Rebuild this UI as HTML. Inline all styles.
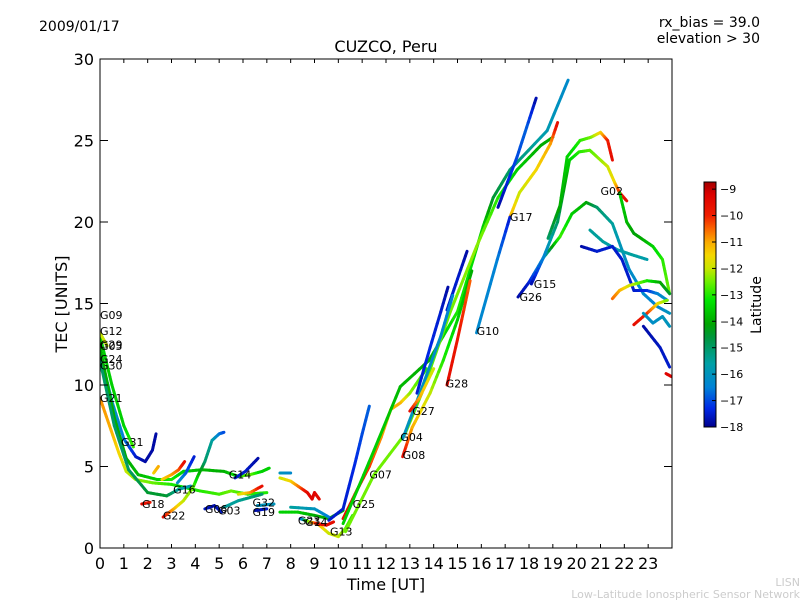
<!DOCTYPE html>
<html><head><meta charset="utf-8">
<style>
body{margin:0;background:#fff;}
svg{display:block;font-family:"DejaVu Sans","Liberation Sans",sans-serif;}
</style></head>
<body>
<svg id="chart" width="800" height="600" viewBox="0 0 800 600">
<rect width="800" height="600" fill="#fff"/>
<text x="39" y="31" font-size="14">2009/01/17</text>
<text x="760" y="27" font-size="14" text-anchor="end">rx_bias = 39.0</text>
<text x="760" y="43" font-size="14" text-anchor="end">elevation &gt; 30</text>
<text x="386" y="52" font-size="16" text-anchor="middle">CUZCO, Peru</text>
<text x="386" y="590" font-size="16" text-anchor="middle">Time [UT]</text>
<text x="67" y="304" font-size="16" text-anchor="middle" transform="rotate(-90 67 304)">TEC [UNITS]</text>
<text x="761" y="305" font-size="14" text-anchor="middle" transform="rotate(-90 761 305)">Latitude</text>
<text x="800" y="586" font-size="11" fill="#ccc" text-anchor="end">LISN</text>
<text x="800" y="598" font-size="11" fill="#ccc" text-anchor="end">Low-Latitude Ionospheric Sensor Network</text>
<g id="marks"></g>
<g id="axes"></g>
</svg>
<script>
const xTickLabels=[0,1,2,3,4,5,6,7,8,9,10,11,12,13,14,15,16,17,18,19,20,21,22,23];
const yTickLabels=[0,5,10,15,20,25,30];
const cbTickLabels=[-9,-10,-11,-12,-13,-14,-15,-16,-17,-18];
const trackIds=["G21","G31","G09","G05","G24","G18","G18b","G16","G16b","G22","G06","G03","G32b","G32","G19","G19b","G23","G23b","G29","G29b","G13","G14b","G25","G07","G30b","G12b","G17","G10","G17b","G04b","G04c","G04","G08","G27","G28","G26","G15","G02b","G02c","G02","G02d","G02e","G02f","G02g","G02h","G02i","G02j"];
const trackH=[
[0,0.4,0.8,1.1,1.5,2.2,3.0,3.6,4.2,5,5.5,6.2,7],
[0,0.5,1,1.5,1.9,2.2,2.35],
[0,0.5,1,1.4],
[0,0.6,1.1,1.6,2.4,3,3.5,4.3,5.2,5.8,6.3,6.8,7.1],
[0,0.6,1.2,2,2.8,3.3,3.8],
[1.75,2.1],
[2.25,2.45],
[2.6,3.0,3.3,3.55],
[3.25,3.6,3.95],
[2.65,3.1,3.5,3.9,4.1,4.4,4.7,5.0,5.2],
[4.4,4.8,5.1],
[5.2,5.8,6.3,6.8],
[5.67,6.1,6.63],
[5.8,6.3,6.8],
[6.5,7.0],
[6.6,7.3],
[7.55,8.0,8.4,8.7,8.9,9.0,9.2],
[7.55,8.0],
[7.55,8.3,9,9.6,10.2],
[8.0,9,9.6],
[9.2,9.6,10.0,10.3,10.6],
[8.4,8.8,9.1,9.5,9.8],
[9.6,10.2,10.7,11.0,11.3],
[10.2,10.8,11.3,11.8,12.2,12.6,13,13.7],
[10.2,11.5,12.6,13.8,15,16.07,16.5,17.2,18.76,19.64],
[10.3,11.5,12.8,13.5,14.7,15.8,16.7,17.5,18.5,19],
[17.2,17.6,18.3,18.9,19.2],
[15.8,16.67,17.2],
[16.7,17.5,17.9,18.3],
[13.3,13.85,14.3,14.6],
[14.56,15.0,15.4],
[12.7,13.5,14.3,14.8],
[12.7,13.1,13.85,14.4,15,15.6],
[13.0,13.4,14],
[14.56,15,15.53],
[17.54,18.0,18.6,19.3,19.8,20.4,20.85,21.5,21.9,22.2,22.8,23.4,23.9],
[18.1,18.6,19.2,19.7,20.1,20.55,21.0,21.3,21.6,21.8,22.1],
[18.8,19.3,19.6,20.14,20.6,21.0,21.3,21.5],
[21.8,22.1,22.4,22.8,23.2,23.6,23.9],
[20.56,21.1,21.7,22.3,22.95],
[20.2,20.85,21.5,21.9,22.4,22.95,23.4,23.8],
[21.5,21.8,22.2,22.95,23.5,23.9],
[22.4,22.95,23.4,23.8],
[22.8,23.2,23.6,23.9],
[22.8,23.5,23.9],
[23.75,24],
[0,0.3]
];
const trackTEC=[
[9.2,7.5,5.8,4.7,4.2,4.0,3.9,3.7,3.5,3.3,3.5,3.3,3.4],
[12,9,6.7,5.6,5.3,6,7],
[13,10,7.5,6.2],
[12.3,8,5.5,4.5,4.2,4.2,4.7,4.8,4.7,4.4,4.5,4.7,4.9],
[11.5,7.5,4.8,3.4,3.2,3.6,3.8],
[2.7,2.8],
[4.6,5.0],
[4.2,4.5,4.8,5.3],
[4.0,4.6,5.6],
[1.9,2.4,2.9,3.7,4.4,5.3,6.6,7.0,7.1],
[2.4,2.6,2.2],
[2.5,2.9,3.1,3.3],
[4.3,4.7,5.5],
[3.3,3.4,3.8],
[2.3,2.4],
[2.6,2.7],
[4.3,4.1,3.7,3.4,3.0,3.4,3.0],
[4.6,4.6],
[2.2,2.2,2.0,1.8,2.3],
[2.5,2.4,1.9],
[1.4,0.9,0.7,1.2,2.0],
[1.8,1.6,1.5,1.4,1.6],
[1.7,2.4,5.2,7.0,8.7],
[1.8,3.6,5,6.8,8.5,8.9,9.5,11],
[1.5,6,9.9,11.5,14.5,19.7,21.5,23.2,25.6,28.7],
[1.0,4.5,7,9.5,14.5,18.5,21.5,23.2,24.7,25.2],
[20.3,21.8,23.2,24.8,26.1],
[13.2,17.7,20.3],
[20.9,24,25.8,27.6],
[9.5,12.3,14.5,16],
[14.6,16.5,18.2],
[6.7,9.8,13,15.5],
[5.6,7.4,9.5,11.5,14,17],
[8.4,9.2,11],
[10,12.8,16.4],
[15.4,16.3,17.8,19.1,20.5,21.2,20.9,19.9,18.3,17.1,15.6,14.8,14.4],
[16.2,17.8,20,23.8,24.3,24.4,23.8,23.4,22.4,21.8,21.3],
[19,21,24,25,25.2,25.5,25,23.8],
[21.8,20,19.3,18.9,18.5,17.7,15.6],
[19.5,18.8,18.3,18.0,17.7],
[18.5,18.2,18.5,17.7,15.8,15.8,15.6,15.2],
[15.3,15.8,16.1,16.4,16.3,15.6],
[13.7,14.4,15,15.2],
[14.4,13.8,14.2,13.6],
[13.6,12.3,11.1],
[10.7,10.5],
[13.2,12.4]
];
const trackLat=[
[-10.8,-11,-11.5,-12,-12.3,-12.5,-13,-13.3,-13,-12.8,-12.5,-13,-13],
[-15.5,-16,-16.5,-17.5,-17.8,-17.8,-17.8],
[-13.5,-13.5,-13.5,-12.8],
[-14,-14,-14,-13.8,-13.5,-13,-13.5,-13.8,-14,-13.2,-12.5,-13.5,-13.5],
[-15,-15,-15,-14.5,-14.5,-15.5,-15.8],
[-9.5,-9.8],
[-11.5,-11],
[-11.5,-11,-10.5,-9.5],
[-16,-16.8,-17.5],
[-9.5,-11,-12,-12.5,-13.5,-15,-15.5,-16.5,-17],
[-17.5,-17.8,-17.5],
[-15.5,-15.5,-15.2,-15],
[-17.5,-17.5,-17.8],
[-12,-11,-9.5],
[-17.8,-17.5],
[-16,-16],
[-12,-11.5,-10.5,-9.5,-9.3,-9.3,-9.5],
[-16,-16.3],
[-13.5,-13.5,-14,-14,-14],
[-15.5,-16,-16.5],
[-11,-12,-12,-12.5,-13],
[-17.5,-12,-9.8,-9.5,-9.5],
[-17.5,-17.5,-17.3,-17,-16.8],
[-9.5,-9.7,-10.2,-10.8,-11.3,-11,-12.3,-13],
[-13.5,-13.5,-13.8,-14,-13,-13.5,-14.5,-15,-15.8,-16.3],
[-12.5,-12.5,-12.5,-12.8,-12.5,-12.3,-13,-13.5,-14,-14],
[-11,-12,-11.5,-11,-9.5],
[-16.3,-16.5,-17.5],
[-17.8,-17,-16.8,-17.8],
[-17.5,-17.3,-17.5,-17.8],
[-17.5,-17.5,-17.8],
[-16,-16,-16.3,-16.5],
[-9.5,-11,-12,-13,-13.5,-14],
[-9.5,-11,-12],
[-9.5,-9.8,-10.5],
[-17.8,-17.5,-16,-12.8,-13.5,-14,-15,-15.5,-16,-16.2,-16.3,-16.5,-16],
[-17.8,-16.5,-15,-13.5,-13,-12.7,-12.3,-12,-11.5,-10,-9.5],
[-15,-14,-13.5,-13,-12.5,-11.5,-10,-9.5],
[-13.5,-13.8,-14.2,-14,-13.5,-13,-12.5],
[-15.5,-15.5,-15.8,-15.5,-15.7],
[-17.8,-17.5,-17.5,-17.5,-17.5,-17.3,-16.5,-16],
[-10.5,-11,-11.8,-13,-14,-14.5],
[-9.5,-10,-11.5,-12.5],
[-16,-16.2,-16,-16],
[-17.8,-17.6,-17.5],
[-9.3,-9.3],
[-12,-12]
];
const labelNames=["G09","G12","G29","G05","G24","G30","G21","G31","G18","G16","G22","G06","G03","G14","G32","G19","G23","G14","G13","G25","G07","G04","G08","G27","G28","G10","G17","G15","G26","G02"];
const labelH=[0,0,0,0,0,0,0,0.88,1.76,3.07,2.64,4.4,4.95,5.4,6.4,6.4,8.3,8.6,9.65,10.6,11.3,12.6,12.7,13.1,14.5,15.8,17.2,18.2,17.6,21.0];
const labelTEC=[14.3,13.3,12.5,12.4,11.6,11.2,9.2,6.5,2.7,3.6,2.0,2.4,2.3,4.5,2.8,2.2,1.7,1.6,1.0,2.7,4.5,6.8,5.7,8.4,10.1,13.3,20.3,16.2,15.4,21.9];

const X0=100,X1=672,Y0=548,Y1=59;
function xs(h){return X0+(h/24)*(X1-X0);}
function ys(v){return Y0-(v/30)*(Y0-Y1);}
const CB_TOP=182,CB_BOT=427,VMIN=-18,VMAX=-8.73;
function cbY(v){return CB_BOT-(v-VMIN)/(VMAX-VMIN)*(CB_BOT-CB_TOP);}
const STOPS=[[-18,0,0,140],[-17.3,0,40,230],[-16.5,0,130,215],[-15.6,0,160,165],[-14.6,0,150,60],[-14.1,0,165,0],[-13.2,0,230,0],[-12.5,110,240,0],[-12,200,230,0],[-11.5,245,215,0],[-11,250,170,0],[-10.5,250,100,0],[-10,240,30,0],[-9.2,220,0,0],[-8.7,160,0,0]];
function jet(v){
  if(v<=STOPS[0][0])return `rgb(${STOPS[0][1]},${STOPS[0][2]},${STOPS[0][3]})`;
  for(let i=0;i<STOPS.length-1;i++){
    const a=STOPS[i],b=STOPS[i+1];
    if(v<=b[0]){const t=(v-a[0])/(b[0]-a[0]);
      return `rgb(${Math.round(a[1]+(b[1]-a[1])*t)},${Math.round(a[2]+(b[2]-a[2])*t)},${Math.round(a[3]+(b[3]-a[3])*t)})`;}
  }
  const l=STOPS[STOPS.length-1];return `rgb(${l[1]},${l[2]},${l[3]})`;
}
const NS="http://www.w3.org/2000/svg";
const marks=document.getElementById('marks');
const axes=document.getElementById('axes');
const svg=document.getElementById('chart');
function mk(tag,attrs,parent){const e=document.createElementNS(NS,tag);for(const k in attrs)e.setAttribute(k,attrs[k]);parent.appendChild(e);return e;}

const defs=mk('defs',{},svg);
const cp=mk('clipPath',{id:'plotclip'},defs);
mk('rect',{x:X0,y:Y1,width:X1-X0,height:Y0-Y1},cp);
marks.setAttribute('clip-path','url(#plotclip)');

for(let i=0;i<trackH.length;i++){
  const g=mk('g',{},marks);
  
  
  const H=trackH[i],T=trackTEC[i],L=trackLat[i];
  for(let j=0;j<H.length-1;j++){
    const n=6;
    for(let k=0;k<n;k++){
      const a=k/n,b=(k+1)/n,m=(a+b)/2;
      const seg=mk('line',{x1:xs(H[j]+(H[j+1]-H[j])*a),y1:ys(T[j]+(T[j+1]-T[j])*a),x2:xs(H[j]+(H[j+1]-H[j])*b),y2:ys(T[j]+(T[j+1]-T[j])*b),stroke:jet(L[j]+(L[j+1]-L[j])*m),'stroke-width':3,'stroke-linecap':'round'},g);
      
      
    }
  }
}
for(let i=0;i<labelNames.length;i++){
  const t=mk('text',{x:xs(labelH[i]),y:ys(labelTEC[i])+4,'font-size':11},marks);
  t.textContent=labelNames[i];
  
  
}
const fr=mk('rect',{x:X0,y:Y1,width:X1-X0,height:Y0-Y1,fill:'none',stroke:'#000','stroke-width':1},axes);


for(const h of xTickLabels){
  const x=xs(h);
  mk('line',{x1:x,y1:Y0,x2:x,y2:Y0-4,stroke:'#000'},axes);
  mk('line',{x1:x,y1:Y1,x2:x,y2:Y1+4,stroke:'#000'},axes);
  const t=mk('text',{x:x,y:Y0+21,'font-size':16,'text-anchor':'middle'},axes);
  t.textContent=h;
  
  
}
for(const v of yTickLabels){
  const y=ys(v);
  mk('line',{x1:X0,y1:y,x2:X0+8,y2:y,stroke:'#000'},axes);
  mk('line',{x1:X1,y1:y,x2:X1-8,y2:y,stroke:'#000'},axes);
  const t=mk('text',{x:X0-6,y:y+6,'font-size':16,'text-anchor':'end'},axes);
  t.textContent=v;
  
  
}
const cb=mk('g',{},axes);


for(let y=CB_TOP;y<CB_BOT;y++){
  const v=VMIN+(CB_BOT-y-0.5)/(CB_BOT-CB_TOP)*(VMAX-VMIN);
  mk('rect',{x:704,y:y,width:12,height:1.2,fill:jet(v)},cb);
}
mk('rect',{x:704,y:CB_TOP,width:12,height:CB_BOT-CB_TOP,fill:'none',stroke:'#000'},cb);
for(const v of cbTickLabels){
  const y=cbY(v);
  mk('line',{x1:712,y1:y,x2:716,y2:y,stroke:'#000'},cb);
  const t=mk('text',{x:720,y:y+4,'font-size':11},cb);
  t.textContent='\u2212'+Math.abs(v);
  
  
}
</script>
</body></html>
